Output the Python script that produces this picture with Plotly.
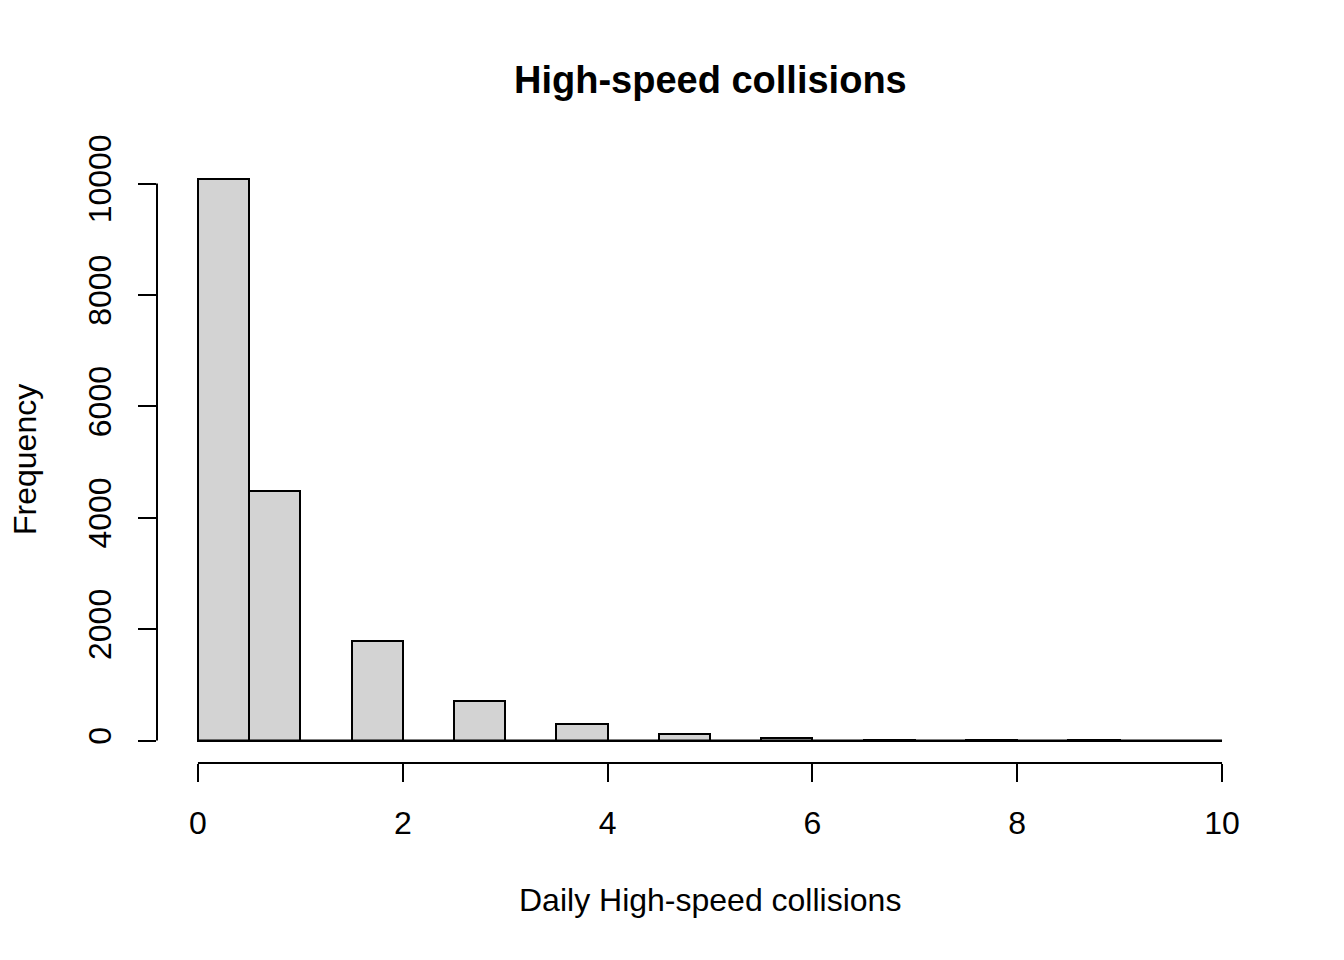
"""
Histogram of daily high-speed collisions (R base-graphics look)
"""
import plotly.graph_objects as go

# bin edges (width 0.5) and counts per bin
bin_edges = [i * 0.5 for i in range(21)]
counts = [10075, 4475, 0, 1790, 0, 712, 0, 295, 0, 120,
          0, 48, 0, 18, 0, 6, 0, 2, 0, 1]

x_ticks = [0, 2, 4, 6, 8, 10]
y_ticks = [0, 2000, 4000, 6000, 8000, 10000]

title_text = "High-speed collisions"
x_title = "Daily High-speed collisions"
y_title = "Frequency"

FONT = "Liberation Sans, Arial, sans-serif"
W, H = 1344, 960
OFF = 8  # page body margin of the html output

mids = [(a + b) / 2 for a, b in zip(bin_edges[:-1], bin_edges[1:])]
widths = [b - a for a, b in zip(bin_edges[:-1], bin_edges[1:])]

fig = go.Figure()
fig.add_trace(
    go.Bar(
        x=mids,
        y=counts,
        width=widths,
        marker=dict(color="#D3D3D3", line=dict(color="black", width=2)),
        hoverinfo="x+y",
    )
)

# R style: extend ranges 4% beyond data
x_lo, x_hi = bin_edges[0], bin_edges[-1]
x_pad = (x_hi - x_lo) * 0.04
y_hi = max(counts)
y_pad = y_hi * 0.04

# plot area in screen pixels
left, right, top, bottom = 157, 1263, 157, 763
fig.update_layout(
    width=W,
    height=H,
    margin=dict(l=left - OFF, r=W - right + OFF, t=top - OFF, b=H - bottom + OFF),
    paper_bgcolor="white",
    plot_bgcolor="white",
    showlegend=False,
    bargap=0,
    font=dict(family=FONT, size=32, color="black"),
)

fig.update_xaxes(
    range=[x_lo - x_pad, x_hi + x_pad],
    tickvals=x_ticks,
    ticktext=[str(t) for t in x_ticks],
    ticks="outside",
    ticklen=18,
    tickwidth=2,
    tickcolor="black",
    ticklabelstandoff=14,
    showgrid=False,
    zeroline=False,
    showline=False,
    tickfont=dict(size=32),
)
fig.update_yaxes(
    range=[-y_pad, y_hi + y_pad],
    tickvals=y_ticks,
    ticktext=[str(t) for t in y_ticks],
    tickangle=-90,
    ticks="outside",
    ticklen=18,
    tickwidth=2,
    tickcolor="black",
    ticklabelstandoff=14,
    showgrid=False,
    zeroline=False,
    showline=False,
    tickfont=dict(size=32),
)

# detached axis lines spanning only the tick range
fig.add_shape(type="line", xref="paper", yref="y", x0=0, x1=0,
              y0=y_ticks[0], y1=y_ticks[-1], line=dict(color="black", width=2))
fig.add_shape(type="line", xref="x", yref="paper", x0=x_ticks[0], x1=x_ticks[-1],
              y0=0, y1=0, line=dict(color="black", width=2))
# baseline under the bars (zero-count bins drawn flat)
fig.add_shape(type="line", xref="x", yref="y", x0=bin_edges[0], x1=bin_edges[-1],
              y0=0, y1=0, line=dict(color="black", width=2))

plot_h = bottom - top
plot_w = right - left

fig.add_annotation(
    text="<b>%s</b>" % title_text, xref="paper", yref="paper",
    x=0.5, y=1 + (top - 80) / plot_h, xanchor="center", yanchor="middle",
    showarrow=False, font=dict(size=38, family=FONT),
)
fig.add_annotation(
    text=x_title, xref="paper", yref="paper",
    x=0.5, y=-(900 - bottom) / plot_h, xanchor="center", yanchor="middle",
    showarrow=False, font=dict(size=32, family=FONT),
)
fig.add_annotation(
    text=y_title, xref="paper", yref="paper",
    x=-(left - 25) / plot_w, y=0.5, xanchor="center", yanchor="middle",
    textangle=-90, showarrow=False, font=dict(size=32, family=FONT),
)

fig.write_html("out.html")
